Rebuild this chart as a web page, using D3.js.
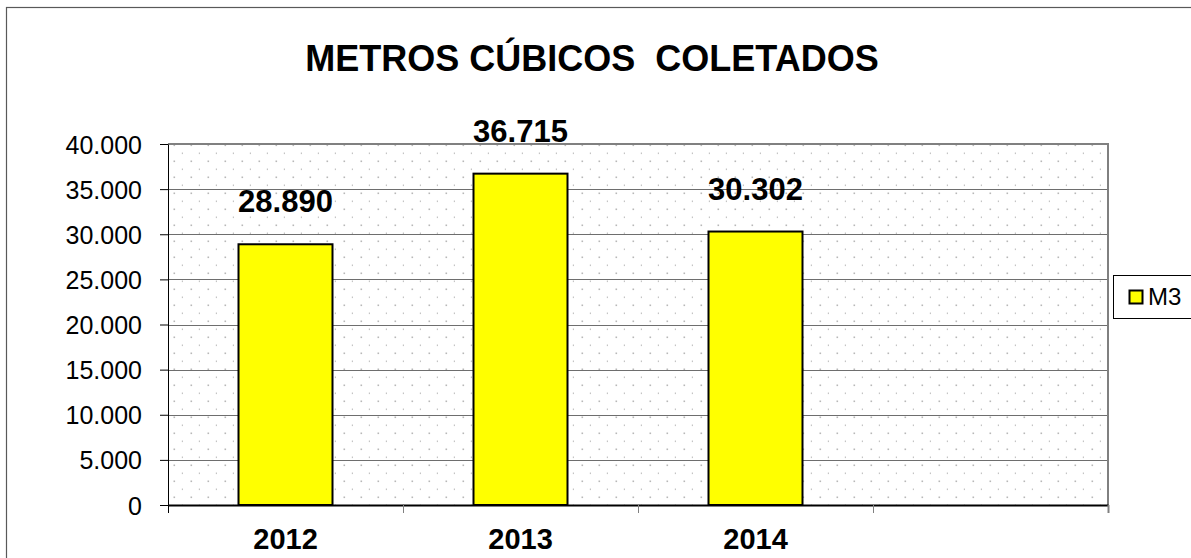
<!DOCTYPE html>
<html>
<head>
<meta charset="utf-8">
<script src="https://cdn.jsdelivr.net/npm/d3@7"></script>
<style>
  body { margin: 0; background: #fff; }
  text { font-family: "Liberation Sans", Arial, sans-serif; }
</style>
</head>
<body>
<div id="chart"></div>
<script>
// data
const categories = ["2012", "2013", "2014", ""];
const values = [28890, 36715, 30302, null];
const yTicks = [0, 5000, 10000, 15000, 20000, 25000, 30000, 35000, 40000];
const seriesName = "M3";
const title = "METROS CÚBICOS  COLETADOS";

const WIDTH = 1191;
const HEIGHT = 558;

const margin = { top: 144, right: 83, bottom: 53, left: 168 };
const width = WIDTH - margin.left - margin.right;
const height = HEIGHT - margin.top - margin.bottom;

const locale = d3.formatLocale({ decimal: ",", thousands: ".", grouping: [3], currency: ["R$", ""] });
const fmt = locale.format(",d");

const root = d3
  .select("#chart")
  .append("svg")
  .attr("width", WIDTH)
  .attr("height", HEIGHT);

// outer chart border
root
  .append("rect")
  .attr("x", 6.5)
  .attr("y", 7.5)
  .attr("width", 1200)
  .attr("height", 600)
  .attr("fill", "#fff")
  .attr("stroke", "#595959")
  .attr("stroke-width", 1.2);

// dotted background pattern
const defs = root.append("defs");
const pat = defs
  .append("pattern")
  .attr("id", "dots")
  .attr("patternUnits", "userSpaceOnUse")
  .attr("x", margin.left)
  .attr("y", margin.top)
  .attr("width", 17)
  .attr("height", 16);
pat.append("rect").attr("x", 7.5).attr("y", 0.5).attr("width", 1.6).attr("height", 1.6).attr("fill", "#b8b8b8");
pat.append("rect").attr("x", 15.8).attr("y", 8.5).attr("width", 1.6).attr("height", 1.6).attr("fill", "#c4c4c4");

// title (keep the double space)
root
  .append("text")
  .attr("x", 592)
  .attr("y", 71)
  .attr("text-anchor", "middle")
  .style("white-space", "pre")
  .style("font-size", "36px")
  .style("font-weight", "bold")
  .text(title);

const svg = root.append("g").attr("transform", `translate(${margin.left}, ${margin.top})`);

const x = d3.scaleBand().range([0, width]).domain(categories).paddingInner(0).paddingOuter(0);
const y = d3.scaleLinear().range([height, 0]).domain([0, 40000]);

// plot area
svg
  .append("rect")
  .attr("width", width)
  .attr("height", height)
  .attr("fill", "url(#dots)");

// gridlines
svg
  .append("g")
  .selectAll("line")
  .data(yTicks.slice(1, -1))
  .join("line")
  .attr("x1", 0)
  .attr("x2", width)
  .attr("y1", d => Math.round(y(d)) + 0.5)
  .attr("y2", d => Math.round(y(d)) + 0.5)
  .attr("stroke", "#6e6e6e")
  .attr("stroke-width", 1);

// top and right border of plot area
svg
  .append("path")
  .attr("d", `M0,0H${width}V${height}`)
  .attr("fill", "none")
  .attr("stroke", "#808080")
  .attr("stroke-width", 2);

// bars
const bw = x.step() * 0.4;
const barData = values.map((v, i) => ({ c: categories[i], v })).filter(d => d.v != null);
svg
  .selectAll(".bar")
  .data(barData)
  .join("rect")
  .attr("class", "bar")
  .attr("x", d => x(d.c) + (x.bandwidth() - bw) / 2)
  .attr("y", d => y(d.v))
  .attr("width", bw)
  .attr("height", d => height - y(d.v))
  .attr("fill", "#ffff00")
  .attr("stroke", "#000")
  .attr("stroke-width", 2);

// value labels
svg
  .selectAll(".lbl")
  .data(barData)
  .join("text")
  .attr("class", "lbl")
  .attr("x", d => x(d.c) + x.bandwidth() / 2)
  .attr("y", d => y(d.v) - 32)
  .attr("text-anchor", "middle")
  .style("font-size", "31px")
  .style("font-weight", "bold")
  .text(d => fmt(d.v));

// y axis
const yAxis = svg
  .append("g")
  .call(d3.axisLeft(y).tickValues(yTicks).tickFormat(fmt).tickSize(8).tickSizeOuter(0).tickPadding(18));
yAxis.select(".domain").attr("stroke", "#000");
yAxis.selectAll("text").style("font-size", "25px").style("font-family", "Liberation Sans, Arial, sans-serif").attr("fill", "#000").attr("dy", "0.36em");
yAxis.selectAll(".tick line").attr("stroke", "#000");

// x axis
const xAxis = svg
  .append("g")
  .attr("transform", `translate(0, ${height})`)
  .call(d3.axisBottom(x).tickSize(0).tickPadding(23));
xAxis.select(".domain").attr("stroke", "#000").attr("stroke-width", 2);
xAxis.selectAll("text").style("font-size", "29px").style("font-weight", "bold").style("font-family", "Liberation Sans, Arial, sans-serif").attr("fill", "#000").attr("dy", "0.71em");

// category boundary ticks
svg
  .append("g")
  .selectAll("line")
  .data(categories.map(c => x(c)).concat([width]))
  .join("line")
  .attr("x1", d => Math.round(d) + 0.5)
  .attr("x2", d => Math.round(d) + 0.5)
  .attr("y1", height)
  .attr("y2", height + 8)
  .attr("stroke", d => (d === 0 ? "#000" : "#808080"))
  .attr("stroke-width", d => (d === width ? 2 : 1));

// legend
const legend = root.append("g").attr("transform", "translate(1113, 275)");
legend
  .append("rect")
  .attr("x", 0.5)
  .attr("y", 0.5)
  .attr("width", 78)
  .attr("height", 43)
  .attr("fill", "#fff")
  .attr("stroke", "#000");
legend
  .append("rect")
  .attr("x", 16.5)
  .attr("y", 15.5)
  .attr("width", 13)
  .attr("height", 13)
  .attr("fill", "#ffff00")
  .attr("stroke", "#000")
  .attr("stroke-width", 2);
legend
  .append("text")
  .attr("x", 35)
  .attr("y", 30)
  .style("font-size", "24px")
  .text(seriesName);
</script>
</body>
</html>
